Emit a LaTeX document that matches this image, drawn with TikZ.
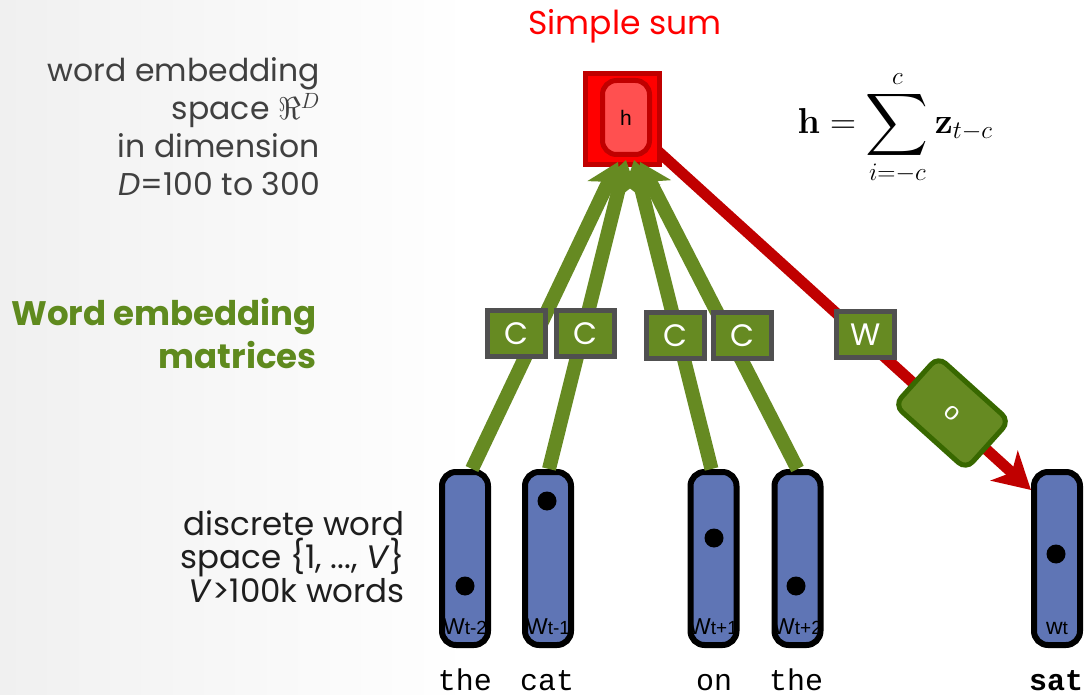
\RequirePackage{fix-cm}
\documentclass[tikz,border=0pt]{standalone}
\usepackage{exscale}
\usepackage{graphicx}
\usepackage[no-math]{fontspec}
\setmainfont{Poppins}
\setsansfont{Liberation Sans}
\setmonofont{Liberation Mono}
\usetikzlibrary{arrows.meta}
\definecolor{wblue}{RGB}{95,117,181}
\definecolor{cgreen}{RGB}{102,138,34}
\definecolor{cborder}{RGB}{80,80,80}
\definecolor{dred}{RGB}{192,0,0}
\definecolor{hred}{RGB}{255,0,0}
\definecolor{hin}{RGB}{255,80,80}
\definecolor{ogreen}{RGB}{56,104,0}
\definecolor{tgray}{RGB}{64,64,64}
\definecolor{tdark}{RGB}{30,30,30}
\definecolor{tgreen}{RGB}{95,138,30}
\definecolor{bggray}{RGB}{240,240,240}
\pgfdeclarelayer{bgl}
\pgfdeclarelayer{under}
\pgfsetlayers{bgl,under,main}
\tikzset{
  wordbox/.style={draw=black, line width=6pt, fill=wblue, rounded corners=14pt,
    minimum width=46pt, minimum height=173pt, inner sep=0pt},
  dotnode/.style={circle, fill=black, minimum size=19pt, inner sep=0pt},
  wlabel/.style={font=\sffamily\fontsize{23}{23}\selectfont, anchor=base, inner sep=0pt},
  mat/.style={draw=cborder, line width=5pt, fill=cgreen, minimum width=58pt,
    minimum height=46pt, inner sep=0pt, text=white, font=\fontsize{31}{31}\selectfont},
  garrow/.style={draw=cgreen, line width=14pt, -{Stealth[length=30pt,width=38pt,inset=8pt]}},
  rarrow/.style={draw=dred, line width=11pt, -{Stealth[length=36pt,width=40pt,inset=10pt]}},
  word/.style={font=\ttfamily\fontsize{30}{30}\selectfont, anchor=base, inner sep=0pt},
  lefttxt/.style={font=\fontsize{31.5}{31.5}\selectfont, text=tgray, anchor=base east, inner sep=0pt},
  greentxt/.style={font=\bfseries\fontsize{34}{34}\selectfont, text=tgreen, anchor=base east, inner sep=0pt},
  disctxt/.style={font=\fontsize{32.5}{32.5}\selectfont, text=tdark, anchor=base east, inner sep=0pt},
}
\newcommand{\subsz}{\fontsize{19}{19}\selectfont}
\begin{document}
\begin{tikzpicture}[x=1pt,y=-1pt]
\useasboundingbox (0,0) rectangle (1088,695);
\begin{pgfonlayer}{bgl}
  \fill[white] (0,0) rectangle (1088,695);
  \shade[left color=bggray, right color=white] (0,0) rectangle (470,695);
\end{pgfonlayer}

% title
\node[font=\fontsize{33}{33}\selectfont, text=hred, anchor=base, inner sep=0pt] (title) at (625,35) {Simple sum};

% h box
\node[draw=dred, line width=5pt, fill=hred, minimum width=74pt, minimum height=91pt, inner sep=0pt] (h) at (622.5,119) {};
\node[draw=dred, line width=5pt, fill=hin, rounded corners=14pt, minimum width=47pt, minimum height=74pt,
  inner sep=0pt, font=\sffamily\fontsize{21}{21}\selectfont] (hin) at (626,117.5) {h};

% formula
\node[font=\fontsize{36}{42}\selectfont, inner sep=0pt] (formula) at (895,128)
  {$\displaystyle \mathbf{h} = \mathop{\vcenter{\hbox{\scalebox{1.75}{$\displaystyle\sum$}}}}\limits_{i=-c}^{c} \mathbf{z}_{t-c}$};

% word boxes
\node[wordbox] (w1) at (465,558.5) {};
\node[wordbox] (w2) at (548,558.5) {};
\node[wordbox] (w3) at (713.5,558.5) {};
\node[wordbox] (w4) at (797.5,558.5) {};
\node[wordbox] (wt) at (1057,558.5) {};
\node[dotnode] (d1) at (465,586) {};
\node[dotnode] (d2) at (547,501) {};
\node[dotnode] (d3) at (714,538) {};
\node[dotnode] (d4) at (796,586) {};
\node[dotnode] (dt) at (1056,554) {};
\node[wlabel] (l1) at (465,634) {W{\subsz t-2}};
\node[wlabel] (l2) at (548,634) {W{\subsz t-1}};
\node[wlabel] (l3) at (713.5,634) {W{\subsz t+1}};
\node[wlabel] (l4) at (797.5,634) {W{\subsz t+2}};
\node[wlabel] (lt) at (1057,634) {w{\subsz t}};

% words
\node[word] (the1) at (465,690) {the};
\node[word] (cat) at (547,690) {cat};
\node[word] (on) at (714,690) {on};
\node[word] (the2) at (796,690) {the};
\node[word, font=\ttfamily\bfseries\fontsize{30}{30}\selectfont] (sat) at (1056,690) {sat};

% red arrow (under)
\begin{pgfonlayer}{under}
  \draw[rarrow] (h.center) -- ([yshift=-21pt]wt.north west);
\end{pgfonlayer}

% green arrows
\coordinate (t1) at (618,162);
\coordinate (t2) at (626,160);
\coordinate (t3) at (634,160);
\coordinate (t4) at (640,162);
\draw[garrow] ([xshift=7pt]w1.north) -- (t1);
\draw[garrow] ([xshift=1pt]w2.north) -- (t2);
\draw[garrow] ([xshift=-2pt]w3.north) -- (t3);
\draw[garrow] (w4.north) -- (t4);

% matrices
\node[mat] (c1) at (516.5,333.5) {C};
\node[mat] (c2) at (585.5,333.5) {C};
\node[mat] (c3) at (675,335.5) {C};
\node[mat] (c4) at (742,335.5) {C};
\node[mat] (wm) at (865.5,334.5) {W};
\node[draw=ogreen, line width=5pt, fill=cgreen, rounded corners=10pt, minimum width=96pt,
  minimum height=65pt, inner sep=0pt, rotate=-42, text=white, font=\sffamily\fontsize{25}{25}\selectfont] (o) at (952,413) {o};

% left texts
\node[lefttxt] (a1) at (320,82) {word embedding};
\node[lefttxt] (a2) at (320,120) {space $\Re^{D}$};
\node[lefttxt] (a3) at (320,158) {in dimension};
\node[lefttxt] (a4) at (320,196) {\textit{D}=100 to 300};
\node[greentxt] (g1) at (317,326) {Word embedding};
\node[greentxt] (g2) at (317,368) {matrices};
\node[disctxt] (b1) at (405,535) {discrete word};
\node[disctxt] (b2) at (405,568) {space \{1, ..., \textit{V}\}};
\node[disctxt] (b3) at (405,602) {\textit{V}>100k words};
\end{tikzpicture}
\end{document}
